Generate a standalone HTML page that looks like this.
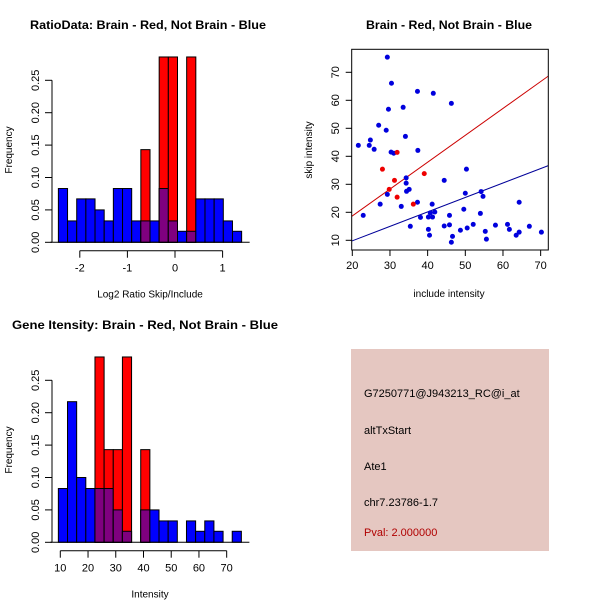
<!DOCTYPE html>
<html><head><meta charset="utf-8"><style>
html,body{margin:0;padding:0;background:#fff}
svg{display:block;font-family:"Liberation Sans",sans-serif}
</style></head><body>
<svg id="c" width="600" height="600" viewBox="0 0 600 600" xmlns="http://www.w3.org/2000/svg">
<rect x="0" y="0" width="600" height="600" fill="#fff"/>
<text x="30" y="29" font-size="12" font-weight="bold" textLength="236" lengthAdjust="spacingAndGlyphs">RatioData: Brain - Red, Not Brain - Blue</text>
<text x="366" y="29" font-size="12" font-weight="bold" textLength="166" lengthAdjust="spacingAndGlyphs">Brain - Red, Not Brain - Blue</text>
<text x="12" y="329" font-size="12" font-weight="bold" textLength="266" lengthAdjust="spacingAndGlyphs">Gene Itensity: Brain - Red, Not Brain - Blue</text>
<g id="h1"></g>
<g id="h2"></g>
<g id="sc"></g>
<g>
<rect x="351" y="349" width="198" height="202" fill="#e5c7c1"/>
<text x="364" y="397" font-size="11" fill="#000">G7250771@J943213_RC@i_at</text>
<text x="364" y="434" font-size="11" fill="#000">altTxStart</text>
<text x="364" y="470" font-size="11" fill="#000">Ate1</text>
<text x="364" y="506" font-size="11" fill="#000">chr7.23786-1.7</text>
<text x="364" y="536" font-size="11" fill="#b00000">Pval: 2.000000</text>
</g>
</svg>
<script>
// Ratio histogram data
const ratioBinStart = -2.45;
const ratioBinWidth = 0.1925;
const ratioBlue = [0.083,0.033,0.067,0.067,0.05,0.033,0.083,0.083,0.033,0.033,0.033,0.083,0.033,0.017,0.017,0.067,0.067,0.067,0.033,0.017];
const ratioRed  = [0,0,0,0,0,0,0,0,0,0.143,0,0.286,0.286,0,0.286,0,0,0,0,0];
const ratioXTicks = [-2,-1,0,1];
const freqTicks = [0,0.05,0.10,0.15,0.20,0.25];
const freqTickLabels = ["0.00","0.05","0.10","0.15","0.20","0.25"];
// Intensity histogram data
const intBinStart = 9.3;
const intBinWidth = 3.3;
const intBlue = [0.083,0.217,0.1,0.083,0.083,0.083,0.05,0.017,0,0.05,0.05,0.033,0.033,0,0.033,0.017,0.033,0.017,0,0.017];
const intRed  = [0,0,0,0,0.286,0.143,0.143,0.286,0,0.143,0,0,0,0,0,0,0,0,0,0];
const intXTicks = [10,20,30,40,50,60,70];
// Scatter data
const blueInclude = [29.3,30.4,29.6,33.5,37.3,41.5,46.3,27,29,24.8,21.6,24.5,25.8,34.1,30.3,31,37.4,34.3,34.3,44.4,50.3,34.4,35.1,29.3,27.4,33,37.3,22.9,35.4,38.1,41.2,40.7,41.9,40.2,41.3,40.2,40.5,44.4,45.8,45.8,46.6,46.3,48.7,50,49.6,50.5,52.1,54.2,54.7,54,55.3,55.6,58,61.2,61.7,64.3,63.5,64.3,67,70.2];
const blueSkip = [75.4,66.1,56.8,57.5,63.2,62.5,58.9,51.1,49.3,45.8,43.9,43.9,42.5,47.1,41.5,41.1,42.1,32.3,30.4,31.4,35.4,27.5,28.2,26.4,22.9,22.1,23.6,18.9,15,18.2,22.9,19.8,20.1,18.3,18.3,13.9,11.8,15.1,18.9,15.5,11.4,9.3,13.6,26.8,21.1,14.4,15.7,27.4,25.7,19.6,13.2,10.4,15.4,15.7,13.9,23.6,11.8,12.9,15,12.9];
const redInclude = [31.9,28,39.1,31.2,29.8,31.9,36.2];
const redSkip = [41.4,35.4,33.8,31.4,28.2,25.4,22.9];
const redFit = [-0.5,0.96];
const blueFit = [-0.5,0.516];
const scXTicks = [20,30,40,50,60,70];
const scYTicks = [10,20,30,40,50,60,70];

const NS = "http://www.w3.org/2000/svg";
function mk(parent, tag, attrs){const e=document.createElementNS(NS,tag);for(const k in attrs)e.setAttribute(k,attrs[k]);parent.appendChild(e);return e;}

function hist(g, start, width, blue, red, xticks, xsc, y0, ysc, xAxisY, xlab, ylabY){
  const sy = v => y0 - v*ysc;
  const sx = v => xsc[0] + (v - xsc[1]) * xsc[2];
  for(let i=0;i<blue.length;i++){
    const x1=sx(start+i*width), x2=sx(start+(i+1)*width);
    const b=blue[i], r=red[i], m=Math.min(b,r);
    if(b>0){const e=mk(g,'rect',{x:x1,y:sy(b),width:x2-x1,height:y0-sy(b),fill:'#0000ff',stroke:'#000','stroke-width':1});
      
      }
    if(r>0){const e=mk(g,'rect',{x:x1,y:sy(r),width:x2-x1,height:y0-sy(r),fill:'#ff0000',stroke:'#000','stroke-width':1});
      
      }
    if(m>0){const e=mk(g,'rect',{x:x1,y:sy(m),width:x2-x1,height:y0-sy(m),fill:'#7f007f',stroke:'#000','stroke-width':1});
      
      }
  }
  const base=mk(g,'line',{x1:sx(start)-8,x2:sx(start+blue.length*width)+8,y1:y0,y2:y0,stroke:'#000'});
  
  
  const ya=mk(g,'line',{x1:52,x2:52,y1:sy(0),y2:sy(0.25),stroke:'#000'});
  
  
  freqTicks.forEach((v,i)=>{
    const t=mk(g,'line',{x1:45,x2:52,y1:sy(v),y2:sy(v),stroke:'#000'});
    
    
    const l=mk(g,'text',{x:0,y:0,'font-size':11,'text-anchor':'middle',transform:`translate(39,${sy(v)}) rotate(-90)`});
    l.textContent=freqTickLabels[i];
    
    
  });
  const yt=mk(g,'text',{x:0,y:0,'font-size':10,'text-anchor':'middle',transform:`translate(12,${ylabY}) rotate(-90)`});
  yt.textContent='Frequency';
  
  
  const xa=mk(g,'line',{x1:sx(xticks[0]),x2:sx(xticks[xticks.length-1]),y1:xAxisY,y2:xAxisY,stroke:'#000'});
  
  
  xticks.forEach(v=>{
    const t=mk(g,'line',{x1:sx(v),x2:sx(v),y1:xAxisY,y2:xAxisY+7,stroke:'#000'});
    
    
    const l=mk(g,'text',{x:sx(v),y:xAxisY+21,'font-size':11,'text-anchor':'middle'});
    l.textContent=String(v);
    
    
  });
  const xt=mk(g,'text',{x:150,y:xAxisY+47,'font-size':10,'text-anchor':'middle'});
  xt.textContent=xlab;
  
  
}
hist(document.getElementById('h1'),ratioBinStart,ratioBinWidth,ratioBlue,ratioRed,ratioXTicks,[175,0,47.6],242.3,648,250.7,'Log2 Ratio Skip/Include',150);
hist(document.getElementById('h2'),intBinStart,intBinWidth,intBlue,intRed,intXTicks,[60.3,10,2.773],542.3,648,550.7,'Intensity',450);

(function(){
  const g=document.getElementById('sc');
  const L=351.7,R=548.3,T=49.3,B=250;
  const sx=v=>352.3+(v-20)*3.767, sy=v=>240.3-(v-10)*2.8;
  const cp=mk(document.getElementById('c'),'clipPath',{id:'clip'});
  mk(cp,'rect',{x:L,y:T,width:R-L,height:B-T});
  [[redFit,'#cc0000','red-fit-line'],[blueFit,'#000099','blue-fit-line']].forEach(([f,c,n])=>{
    const e=mk(g,'line',{x1:sx(19),y1:sy(f[0]+f[1]*19),x2:sx(73),y2:sy(f[0]+f[1]*73),stroke:c,'stroke-width':1,'clip-path':'url(#clip)'});
    
    
  });
  blueInclude.forEach((v,i)=>{
    const e=mk(g,'circle',{cx:sx(v),cy:sy(blueSkip[i]),r:2.5,fill:'#0000dd'});
    
    
  });
  redInclude.forEach((v,i)=>{
    const e=mk(g,'circle',{cx:sx(v),cy:sy(redSkip[i]),r:2.5,fill:'#ee0000'});
    
    
  });
  const box=mk(g,'rect',{x:L,y:T,width:R-L,height:B-T,fill:'none',stroke:'#000'});
  
  
  scXTicks.forEach(v=>{
    const t=mk(g,'line',{x1:sx(v),x2:sx(v),y1:B,y2:B+6,stroke:'#000'});
    
    
    const l=mk(g,'text',{x:sx(v),y:B+19,'font-size':11,'text-anchor':'middle'});
    l.textContent=String(v);
    
    
  });
  scYTicks.forEach(v=>{
    const t=mk(g,'line',{x1:L-6,x2:L,y1:sy(v),y2:sy(v),stroke:'#000'});
    
    
    const l=mk(g,'text',{x:0,y:0,'font-size':11,'text-anchor':'middle',transform:`translate(339,${sy(v)}) rotate(-90)`});
    l.textContent=String(v);
    
    
  });
  const xt=mk(g,'text',{x:449,y:297,'font-size':10,'text-anchor':'middle'});
  xt.textContent='include intensity';
  
  
  const yt=mk(g,'text',{x:0,y:0,'font-size':10,'text-anchor':'middle',transform:'translate(312,150) rotate(-90)'});
  yt.textContent='skip intensity';
  
  
})();
</script>
</body></html>
